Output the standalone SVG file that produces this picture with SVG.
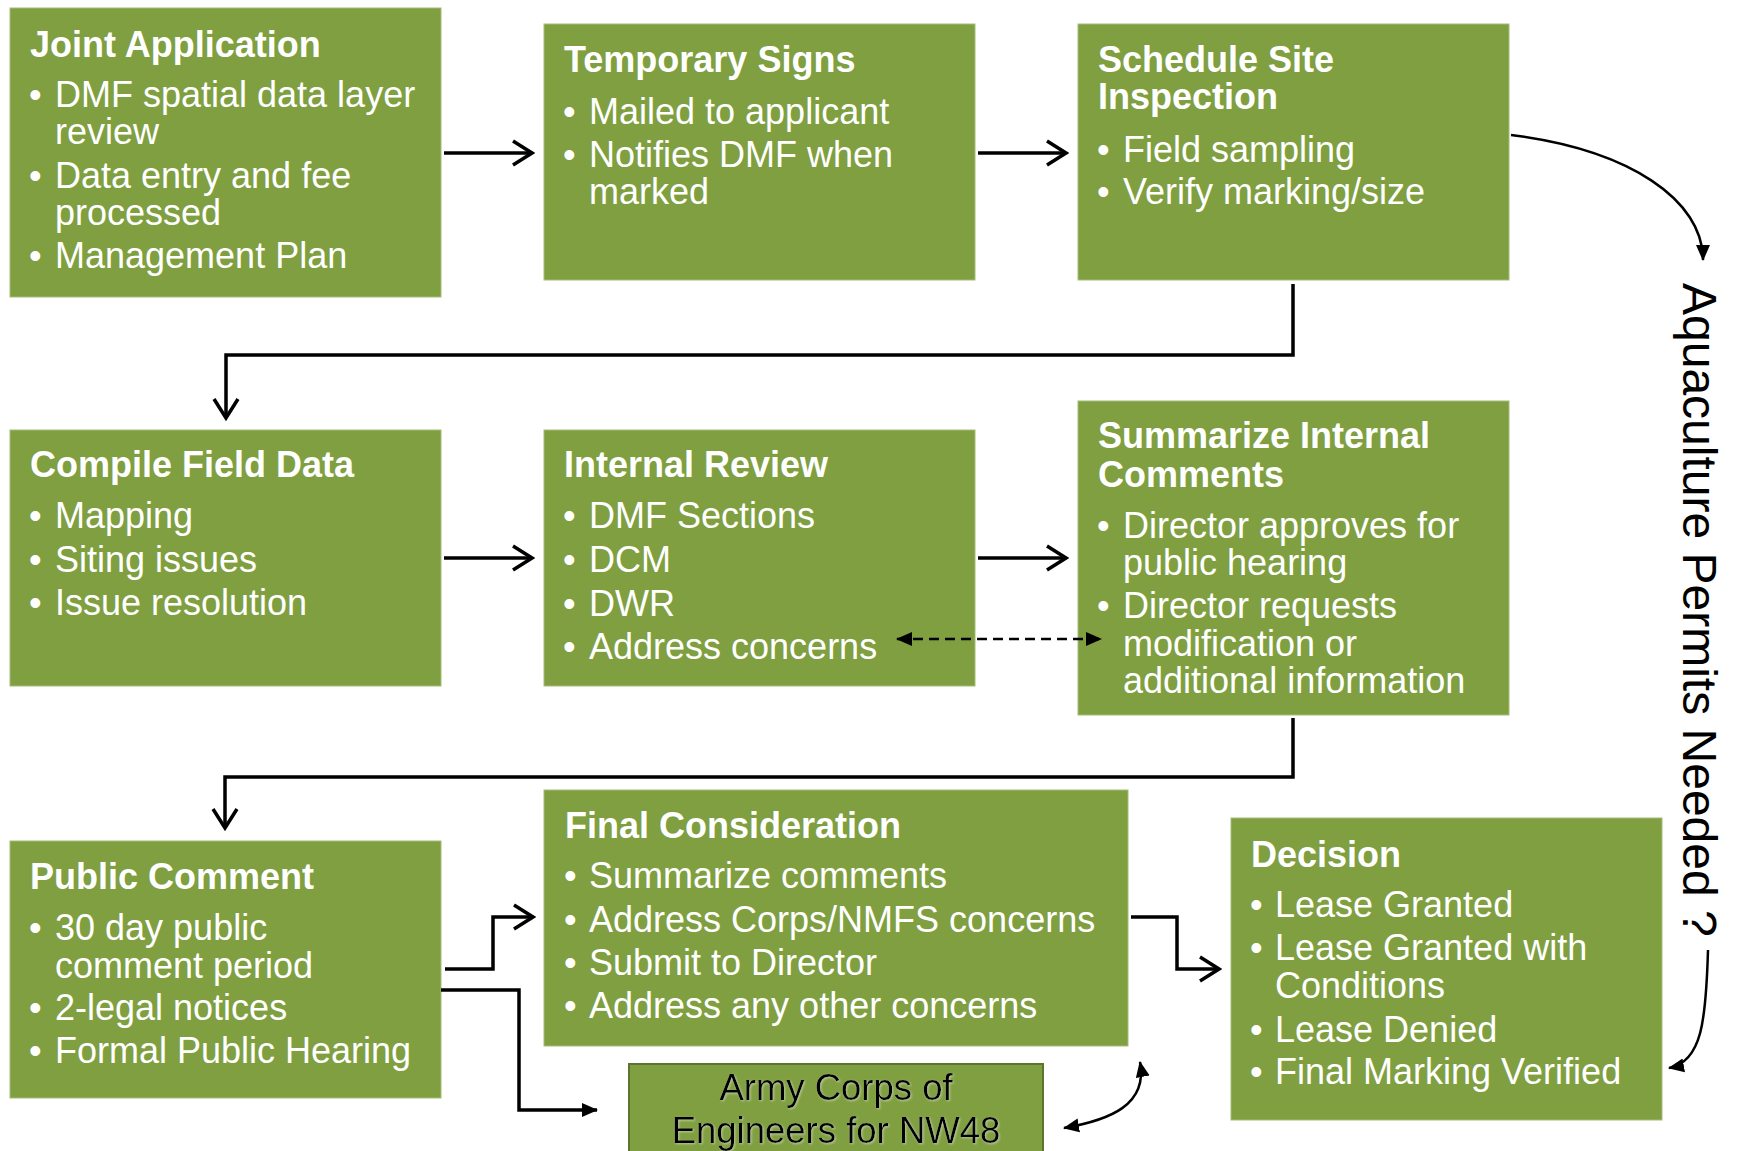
<svg xmlns="http://www.w3.org/2000/svg" width="1737" height="1151" viewBox="0 0 1737 1151">
<style>
.box{fill:#7F9F41;stroke:#A6BC79;stroke-width:1}
.t{font-family:"Liberation Sans",Arial,sans-serif;font-weight:bold;font-size:36px;fill:#FFFFFF}
.b{font-family:"Liberation Sans",Arial,sans-serif;font-size:36px;fill:#FFFFFF}
.k{font-family:"Liberation Sans",Arial,sans-serif;font-size:36.5px;fill:#000000;text-anchor:middle}
.v{font-family:"Liberation Sans",Arial,sans-serif;font-size:48px;fill:#000000}
.main{fill:none;stroke:#000;stroke-width:3.5}
.thin{fill:none;stroke:#000;stroke-width:2.5}
</style>
<defs>
<marker id="chev" markerUnits="userSpaceOnUse" viewBox="0 0 24 28" refX="21" refY="14" markerWidth="24" markerHeight="28" orient="auto">
<path d="M2,2 L21,14 L2,26" fill="none" stroke="#000" stroke-width="3.5" stroke-linejoin="miter"/>
</marker>
<marker id="tri" markerUnits="userSpaceOnUse" viewBox="0 0 16 16" refX="15" refY="8" markerWidth="16" markerHeight="16" orient="auto-start-reverse">
<path d="M0,1 L16,8 L0,15 Z" fill="#000"/>
</marker>
<marker id="trs" markerUnits="userSpaceOnUse" viewBox="0 0 16 14" refX="15" refY="7" markerWidth="16" markerHeight="14" orient="auto-start-reverse">
<path d="M0,0 L16,7 L0,14 Z" fill="#000"/>
</marker>
<filter id="sh" x="-10%" y="-20%" width="120%" height="140%">
<feDropShadow dx="1" dy="1" stdDeviation="1" flood-color="#FFFFFF" flood-opacity="0.45"/>
</filter>
</defs>

<g id="joint-application">
<rect class="box" x="10" y="8" width="431" height="289"/>
<text class="t" x="30" y="57">Joint Application</text>
<text class="b"><tspan x="29" y="107">•</tspan><tspan x="55" y="107">DMF spatial data layer</tspan><tspan x="55" y="144">review</tspan><tspan x="29" y="188">•</tspan><tspan x="55" y="188">Data entry and fee</tspan><tspan x="55" y="225">processed</tspan><tspan x="29" y="268">•</tspan><tspan x="55" y="268">Management Plan</tspan></text>
</g>

<g id="temporary-signs">
<rect class="box" x="544" y="24" width="431" height="256"/>
<text class="t" x="564" y="72">Temporary Signs</text>
<text class="b"><tspan x="563" y="124">•</tspan><tspan x="589" y="124">Mailed to applicant</tspan><tspan x="563" y="167">•</tspan><tspan x="589" y="167">Notifies DMF when</tspan><tspan x="589" y="204">marked</tspan></text>
</g>

<g id="schedule-site-inspection">
<rect class="box" x="1078" y="24" width="431" height="256"/>
<text class="t" x="1098" y="72">Schedule Site</text>
<text class="t" x="1098" y="109">Inspection</text>
<text class="b"><tspan x="1097" y="162">•</tspan><tspan x="1123" y="162">Field sampling</tspan><tspan x="1097" y="204">•</tspan><tspan x="1123" y="204">Verify marking/size</tspan></text>
</g>

<g id="compile-field-data">
<rect class="box" x="10" y="430" width="431" height="256"/>
<text class="t" x="30" y="477">Compile Field Data</text>
<text class="b"><tspan x="29" y="528">•</tspan><tspan x="55" y="528">Mapping</tspan><tspan x="29" y="572">•</tspan><tspan x="55" y="572">Siting issues</tspan><tspan x="29" y="615">•</tspan><tspan x="55" y="615">Issue resolution</tspan></text>
</g>

<g id="internal-review">
<rect class="box" x="544" y="430" width="431" height="256"/>
<text class="t" x="564" y="477">Internal Review</text>
<text class="b"><tspan x="563" y="528">•</tspan><tspan x="589" y="528">DMF Sections</tspan><tspan x="563" y="572">•</tspan><tspan x="589" y="572">DCM</tspan><tspan x="563" y="616">•</tspan><tspan x="589" y="616">DWR</tspan><tspan x="563" y="659">•</tspan><tspan x="589" y="659">Address concerns</tspan></text>
</g>

<g id="summarize-internal-comments">
<rect class="box" x="1078" y="401" width="431" height="314"/>
<text class="t" x="1098" y="448">Summarize Internal</text>
<text class="t" x="1098" y="487">Comments</text>
<text class="b"><tspan x="1097" y="538">•</tspan><tspan x="1123" y="538">Director approves for</tspan><tspan x="1123" y="575">public hearing</tspan><tspan x="1097" y="618">•</tspan><tspan x="1123" y="618">Director requests</tspan><tspan x="1123" y="656">modification or</tspan><tspan x="1123" y="693">additional information</tspan></text>
</g>

<g id="public-comment">
<rect class="box" x="10" y="841" width="431" height="257"/>
<text class="t" x="30" y="889">Public Comment</text>
<text class="b"><tspan x="29" y="940">•</tspan><tspan x="55" y="940">30 day public</tspan><tspan x="55" y="978">comment period</tspan><tspan x="29" y="1020">•</tspan><tspan x="55" y="1020">2-legal notices</tspan><tspan x="29" y="1063">•</tspan><tspan x="55" y="1063">Formal Public Hearing</tspan></text>
</g>

<g id="final-consideration">
<rect class="box" x="544" y="790" width="584" height="256"/>
<text class="t" x="565" y="838">Final Consideration</text>
<text class="b"><tspan x="564" y="888">•</tspan><tspan x="589" y="888">Summarize comments</tspan><tspan x="564" y="932">•</tspan><tspan x="589" y="932">Address Corps/NMFS concerns</tspan><tspan x="564" y="975">•</tspan><tspan x="589" y="975">Submit to Director</tspan><tspan x="564" y="1018">•</tspan><tspan x="589" y="1018">Address any other concerns</tspan></text>
</g>

<g id="army-corps">
<rect x="629" y="1064" width="414" height="110" fill="#7F9F41" stroke="#5E742E" stroke-width="2"/>
<text class="k" filter="url(#sh)"><tspan x="836" y="1100">Army Corps of</tspan><tspan x="836" y="1143">Engineers for NW48</tspan></text>
</g>

<g id="decision">
<rect class="box" x="1231" y="818" width="431" height="302"/>
<text class="t" x="1251" y="867">Decision</text>
<text class="b"><tspan x="1250" y="917">•</tspan><tspan x="1275" y="917">Lease Granted</tspan><tspan x="1250" y="960">•</tspan><tspan x="1275" y="960">Lease Granted with</tspan><tspan x="1275" y="998">Conditions</tspan><tspan x="1250" y="1042">•</tspan><tspan x="1275" y="1042">Lease Denied</tspan><tspan x="1250" y="1084">•</tspan><tspan x="1275" y="1084">Final Marking Verified</tspan></text>
</g>

<g id="permits-label">
<text class="v" transform="translate(1683,283) rotate(90)">Aquaculture Permits Needed ?</text>
</g>

<g id="connectors">
<path class="main" d="M444,153 H532" marker-end="url(#chev)"/>
<path class="main" d="M978,153 H1066" marker-end="url(#chev)"/>
<path class="main" d="M1293,284 V355 H226 V418" marker-end="url(#chev)"/>
<path class="main" d="M444,558 H532" marker-end="url(#chev)"/>
<path class="main" d="M978,558 H1066" marker-end="url(#chev)"/>
<path class="thin" d="M897,639 H1101" stroke-dasharray="10 6" marker-start="url(#trs)" marker-end="url(#trs)"/>
<path class="main" d="M1293,718 V777 H225 V828" marker-end="url(#chev)"/>
<path class="main" d="M445,969 H493 V917 H533" marker-end="url(#chev)"/>
<path class="main" d="M441,990 H519 V1110 H597" marker-end="url(#tri)"/>
<path class="main" d="M1131,917 H1177 V969 H1219" marker-end="url(#chev)"/>
<path class="thin" d="M1064,1128 C1110,1120 1148,1105 1140,1062" marker-start="url(#tri)" marker-end="url(#tri)"/>
<path class="thin" d="M1511,135 C1630,150 1703,200 1703,260" marker-end="url(#tri)"/>
<path class="thin" d="M1708,950 C1706,1020 1702,1062 1669,1068" marker-end="url(#tri)"/>
</g>
</svg>
